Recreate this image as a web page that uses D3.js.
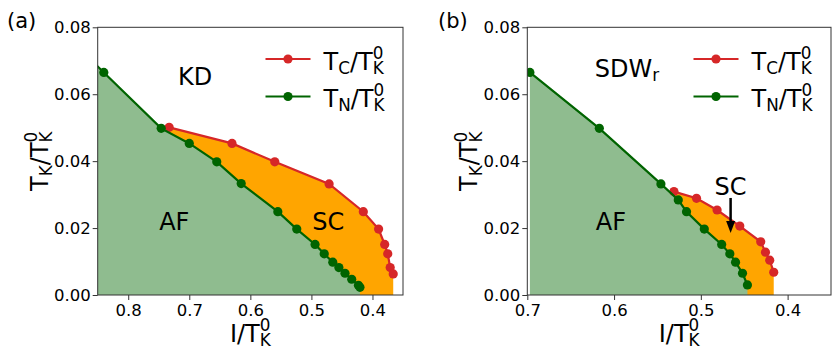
<!DOCTYPE html>
<html>
<head>
<meta charset="utf-8">
<script src="https://cdn.jsdelivr.net/npm/d3@7"></script>
<style>
  body { margin: 0; background: #fff; }
  svg { display: block; font-family: "DejaVu Sans", sans-serif; }
</style>
</head>
<body>
<div id="chart"></div>
<script>
// ---- data ----
// panel (a): KD
const aTnI = [0.87, 0.84, 0.746, 0.70, 0.655, 0.615, 0.555, 0.524, 0.494, 0.479, 0.465, 0.455, 0.445, 0.434, 0.423, 0.4205];
const aTnT = [0.0719, 0.0665, 0.0498, 0.0453, 0.0398, 0.0333, 0.0249, 0.0197, 0.0151, 0.0123, 0.0098, 0.0082, 0.0065, 0.0047, 0.0029, 0.0023];
const aTcI = [0.733, 0.630, 0.560, 0.471, 0.415, 0.390, 0.380, 0.375, 0.371, 0.366];
const aTcT = [0.0501, 0.0453, 0.0398, 0.0332, 0.0249, 0.0197, 0.0151, 0.0123, 0.0082, 0.0063];

// panel (b): SDW_r
const bTnI = [0.697, 0.617, 0.546, 0.526, 0.5165, 0.496, 0.476, 0.4666, 0.460, 0.452, 0.4463];
const bTnT = [0.0665, 0.0498, 0.0332, 0.0284, 0.0249, 0.0197, 0.0151, 0.0123, 0.0098, 0.0065, 0.0030];
const bTcI = [0.531, 0.505, 0.4813, 0.4551, 0.431, 0.4255, 0.4206, 0.416];
const bTcT = [0.0309, 0.0289, 0.0254, 0.0206, 0.0159, 0.0128, 0.0104, 0.0068];

const aXTicks = [0.8, 0.7, 0.6, 0.5, 0.4];
const bXTicks = [0.7, 0.6, 0.5, 0.4];
const yTicks = [0, 0.02, 0.04, 0.06, 0.08];

const RED = '#d62728', GREEN = '#006400', FILL_GREEN = '#8fbc8f', ORANGE = '#ffa500';

const svg = d3.select('#chart').append('svg')
    .attr('width', 840)
    .attr('height', 360);

// writes "T_K/T_K^0" style labels as tspans; stack puts sup right above previous sub
function richText(sel, segs, size) {
    let cur = 0, prev = null;
    segs.forEach(s => {
        const target = s.sub ? size * 0.18 : s.sup ? -size * 0.44 : 0;
        const ts = sel.append('tspan')
            .attr('dy', target - cur)
            .style('font-size', (s.sub || s.sup) ? (size * 0.7) + 'px' : size + 'px')
            .text(s.t);
        if (s.stack && prev) ts.attr('dx', -prev.node().getComputedTextLength());
        cur = target;
        prev = ts;
    });
}

const TK0 = [{ t: 'T' }, { t: 'K', sub: true }, { t: '0', sup: true, stack: true }];
const tcLabel = [{ t: 'T' }, { t: 'C', sub: true }, { t: '/' }].concat(TK0);
const tnLabel = [{ t: 'T' }, { t: 'N', sub: true }, { t: '/' }].concat(TK0);
const yLabel = [{ t: 'T' }, { t: 'K', sub: true }, { t: '/' }].concat(TK0);
const xLabel = [{ t: 'I/' }].concat(TK0);

function drawPanel(p) {
    const x = d3.scaleLinear().domain(p.xDomain).range([p.left, p.right]);
    const y = d3.scaleLinear().domain([0, 0.08]).range([p.bottom, p.top]);

    const clipId = 'clip-' + p.id;
    svg.append('clipPath').attr('id', clipId)
        .append('rect')
        .attr('x', p.left).attr('y', p.top)
        .attr('width', p.right - p.left).attr('height', p.bottom - p.top);

    const g = svg.append('g').attr('clip-path', `url(#${clipId})`);

    const tn = p.tnI.map((v, i) => [v, p.tnT[i]]);
    const tc = p.tcI.map((v, i) => [v, p.tcT[i]]);

    const area = d3.area().x(d => x(d[0])).y0(y(0)).y1(d => y(d[1]));
    const line = d3.line().x(d => x(d[0])).y(d => y(d[1]));

    // fills
    g.append('path').datum(tc).attr('d', area).attr('fill', ORANGE);
    g.append('path').datum(tn).attr('d', area).attr('fill', FILL_GREEN);

    // T_C then T_N curves
    [[tc, RED], [tn, GREEN]].forEach(([pts, col]) => {
        g.append('path').datum(pts)
            .attr('d', line)
            .attr('fill', 'none')
            .attr('stroke', col)
            .attr('stroke-width', 2.2);
        g.selectAll(null).data(pts).enter()
            .append('circle')
            .attr('cx', d => x(d[0]))
            .attr('cy', d => y(d[1]))
            .attr('r', 4.6)
            .attr('fill', col);
    });

    // phase labels
    p.labels.forEach(l => {
        const t = svg.append('text')
            .attr('x', x(l.x)).attr('y', y(l.y))
            .attr('text-anchor', 'middle')
            .attr('dy', '0.36em')
            .style('font-size', '24px');
        if (l.sub) richText(t, [{ t: l.text }, { t: l.sub, sub: true }], 24);
        else t.text(l.text);
    });

    // arrow (panel b)
    if (p.arrow) {
        const a = p.arrow;
        svg.append('line')
            .attr('x1', x(a.x)).attr('x2', x(a.x))
            .attr('y1', y(a.y0)).attr('y2', y(a.y1) - 10)
            .attr('stroke', '#000').attr('stroke-width', 2.5);
        svg.append('path')
            .attr('d', `M${x(a.x) - 4.5},${y(a.y1) - 12}L${x(a.x) + 4.5},${y(a.y1) - 12}L${x(a.x)},${y(a.y1)}Z`)
            .attr('fill', '#000');
    }

    // axes
    const xAxis = svg.append('g')
        .attr('transform', `translate(0,${p.bottom})`)
        .call(d3.axisBottom(x).tickValues(p.xTicks).tickFormat(d3.format('.1f')).tickSize(5).tickSizeOuter(0));
    const yAxis = svg.append('g')
        .attr('transform', `translate(${p.left},0)`)
        .call(d3.axisLeft(y).tickValues(yTicks).tickFormat(d3.format('.2f')).tickSize(5).tickSizeOuter(0));
    [xAxis, yAxis].forEach(ax => {
        ax.select('.domain').remove();
        ax.selectAll('line').attr('stroke', '#333').attr('stroke-width', 1);
        ax.selectAll('text')
            .style('font-family', '"DejaVu Sans", sans-serif')
            .style('font-size', '16.5px')
            .attr('fill', '#000');
    });
    xAxis.selectAll('text').attr('y', 9).attr('dy', '0.71em');
    yAxis.selectAll('text').attr('x', -7);

    // spines
    svg.append('rect')
        .attr('x', p.left).attr('y', p.top)
        .attr('width', p.right - p.left).attr('height', p.bottom - p.top)
        .attr('fill', 'none')
        .attr('stroke', '#333')
        .attr('stroke-width', 1);

    // axis titles
    const xt = svg.append('text')
        .attr('x', (p.left + p.right) / 2).attr('y', p.bottom + 47)
        .attr('text-anchor', 'middle');
    richText(xt, xLabel, 24);

    const yt = svg.append('text')
        .attr('transform', `translate(${p.left - 50},${(p.top + p.bottom) / 2}) rotate(-90)`)
        .attr('text-anchor', 'middle');
    richText(yt, yLabel, 24);

    // panel tag
    svg.append('text')
        .attr('x', p.tagX).attr('y', 28)
        .style('font-size', '21px')
        .text(p.tag);

    // legend
    [[RED, tcLabel], [GREEN, tnLabel]].forEach(([col, lab], i) => {
        const ly = p.legendY + i * 37.5;
        svg.append('line')
            .attr('x1', p.legendX).attr('x2', p.legendX + 45)
            .attr('y1', ly).attr('y2', ly)
            .attr('stroke', col).attr('stroke-width', 2.2);
        svg.append('circle')
            .attr('cx', p.legendX + 22.5).attr('cy', ly)
            .attr('r', 4.6).attr('fill', col);
        const lt = svg.append('text')
            .attr('x', p.legendX + 58).attr('y', ly + 10.5);
        richText(lt, lab, 24);
    });
}

drawPanel({
    id: 'a', tag: '(a)', tagX: 7,
    left: 97.7, right: 403, top: 27.3, bottom: 295,
    xDomain: [0.85, 0.35], xTicks: aXTicks,
    tnI: aTnI, tnT: aTnT, tcI: aTcI, tcT: aTcT,
    legendX: 265.5, legendY: 59,
    labels: [
        { text: 'KD', x: 0.6906, y: 0.0652 },
        { text: 'AF', x: 0.7246, y: 0.0221 },
        { text: 'SC', x: 0.4723, y: 0.0221 }
    ]
});

drawPanel({
    id: 'b', tag: '(b)', tagX: 438,
    left: 527.3, right: 831, top: 27.3, bottom: 295,
    xDomain: [0.7, 0.35], xTicks: bXTicks,
    tnI: bTnI, tnT: bTnT, tcI: bTcI, tcT: bTcT,
    legendX: 693.5, legendY: 59,
    labels: [
        { text: 'SDW', sub: 'r', x: 0.5852, y: 0.0652 },
        { text: 'AF', x: 0.6036, y: 0.0221 },
        { text: 'SC', x: 0.4657, y: 0.0324 }
    ],
    arrow: { x: 0.4657, y0: 0.0290, y1: 0.0185 }
});
</script>
</body>
</html>
